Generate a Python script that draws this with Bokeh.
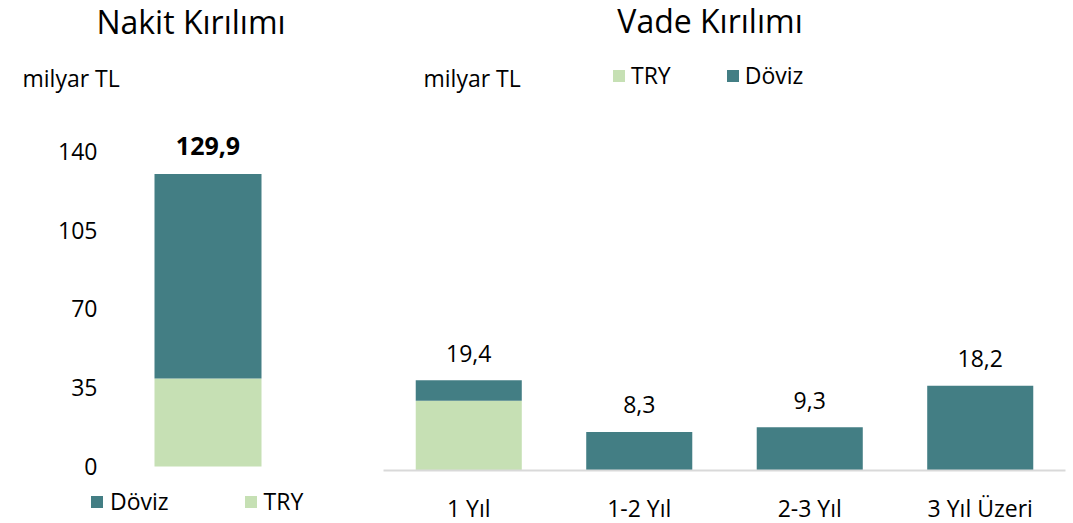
from bokeh.plotting import figure
from bokeh.models import (ColumnDataSource, FixedTicker, Range1d, FactorRange,
                          Label, Legend, LegendItem, LinearAxis, CategoricalAxis)
from bokeh.layouts import row
from bokeh.embed import file_html
from bokeh.resources import INLINE
from bokeh.core.properties import value

# ---------------- data ----------------
cash_categories = ["Nakit"]
cash_try = [39.1]
cash_doviz = [90.8]
cash_total_labels = ["129,9"]

maturity_categories = ["1 Yıl", "1-2 Yıl", "2-3 Yıl", "3 Yıl Üzeri"]
maturity_try = [15.0, 0.0, 0.0, 0.0]
maturity_doviz = [4.4, 8.3, 9.3, 18.2]
maturity_total_labels = ["19,4", "8,3", "9,3", "18,2"]

left_ticks = [0, 35, 70, 105, 140]

# ---------------- style / layout constants ----------------
FONT = "Open Sans"
TEAL = "#437E84"
GREEN = "#C6E0B4"
TXT = "#000000"
FS = "23px"
TITLE_FS = "32px"
H = 523

# left panel geometry (pixels)
LW = 375
L_BAR_CENTER, L_BAR_W, L_ZERO, L_PPU, L_AXIS_X = 207.5, 107.0, 466.0, 2.252, 100.0
# right panel geometry (pixels)
RW = 698
R_ZERO, R_PPU = 470.0, 4.65


def label(text, x, y, size=FS, align="left", style="normal"):
    return Label(x=x, y=y, x_units="screen", y_units="screen", text=text,
                 text_align=align, text_baseline="alphabetic", text_font=FONT,
                 text_font_size=size, text_font_style=style, text_color=TXT)


# ---------------- left chart ----------------
cash_src = ColumnDataSource(dict(
    x=list(range(len(cash_categories))), cat=cash_categories,
    TRY=cash_try, Doviz=cash_doviz,
    total=[a + b for a, b in zip(cash_try, cash_doviz)],
    lbl=cash_total_labels))

left = figure(width=LW, height=H,
              x_range=Range1d(-L_BAR_CENTER / L_BAR_W, (LW - L_BAR_CENTER) / L_BAR_W),
              y_range=Range1d(-(H - L_ZERO) / L_PPU, L_ZERO / L_PPU),
              x_axis_location=None, y_axis_location=None,
              output_backend="svg", toolbar_location=None,
              min_border=0, min_border_top=0, min_border_bottom=0,
              min_border_left=0, min_border_right=0)
r_try, r_dov = left.vbar_stack(["TRY", "Doviz"], x="x", width=1.0,
                               color=[GREEN, TEAL], line_color=None, source=cash_src)
left.text(x="x", y="total", text="lbl", source=cash_src, text_align="center",
          text_baseline="alphabetic", y_offset=-28, text_font=value(FONT),
          text_font_size="25px", text_font_style="bold", text_color=TXT)

yaxis = LinearAxis(ticker=FixedTicker(ticks=left_ticks),
                   fixed_location=(L_AXIS_X - L_BAR_CENTER) / L_BAR_W,
                   axis_line_color=None, major_tick_line_color=None,
                   minor_tick_line_color=None, major_tick_out=0,
                   major_label_standoff=3, major_label_text_font=FONT,
                   major_label_text_font_size=FS, major_label_text_color=TXT)
left.add_layout(yaxis, "left")
left.grid.visible = False
left.outline_line_color = None

left.add_layout(label("Nakit Kırılımı", 190.5, H - 21, TITLE_FS, "center"))
left.add_layout(label("milyar TL", 22, H - 77))

left_legend = Legend(items=[LegendItem(label="Döviz", renderers=[r_dov]),
                            LegendItem(label="TRY", renderers=[r_try])],
                     orientation="horizontal", location=(89, 6),
                     glyph_width=15, glyph_height=15, label_standoff=6,
                     spacing=74, padding=0, margin=0, border_line_color=None,
                     background_fill_alpha=0, label_text_font=FONT,
                     label_text_font_size=FS, label_text_color=TXT)
left.add_layout(left_legend, "center")

# ---------------- right chart ----------------
mat_src = ColumnDataSource(dict(
    cat=maturity_categories, TRY=maturity_try, Doviz=maturity_doviz,
    total=[a + b for a, b in zip(maturity_try, maturity_doviz)],
    lbl=maturity_total_labels))

right = figure(width=RW, height=H,
               x_range=FactorRange(*maturity_categories, range_padding=0.047,
                                   range_padding_units="absolute"),
               y_range=Range1d(-(H - R_ZERO) / R_PPU, R_ZERO / R_PPU),
               x_axis_location=None, y_axis_location=None,
               output_backend="svg", toolbar_location=None,
               min_border=0, min_border_top=0, min_border_bottom=0,
               min_border_left=0, min_border_right=0)
m_try, m_dov = right.vbar_stack(["TRY", "Doviz"], x="cat", width=0.622,
                                color=[GREEN, TEAL], line_color=None, source=mat_src)
right.text(x="cat", y="total", text="lbl", source=mat_src, text_align="center",
           text_baseline="alphabetic", y_offset=-27, text_font=value(FONT),
           text_font_size=FS, text_color=TXT)

xaxis = CategoricalAxis(fixed_location=0, bounds=(0, len(maturity_categories)),
                        axis_line_color="#D9D9D9", axis_line_width=2,
                        major_tick_line_color=None, minor_tick_line_color=None,
                        major_tick_out=0, major_label_standoff=21,
                        major_label_text_font=FONT, major_label_text_font_size=FS,
                        major_label_text_color=TXT)
right.add_layout(xaxis, "below")
right.grid.visible = False
right.outline_line_color = None

right.add_layout(label("Vade Kırılımı", 709.5 - LW, H - 20, TITLE_FS, "center"))
right.add_layout(label("milyar TL", 423 - LW, H - 77))

right_legend = Legend(items=[LegendItem(label="TRY", renderers=[m_try]),
                             LegendItem(label="Döviz", renderers=[m_dov])],
                      orientation="horizontal", location=(611 - LW, H - 91),
                      glyph_width=15, glyph_height=15, label_standoff=5,
                      spacing=54, padding=0, margin=0, border_line_color=None,
                      background_fill_alpha=0, label_text_font=FONT,
                      label_text_font_size=FS, label_text_color=TXT)
right.add_layout(right_legend, "center")

layout = row(left, right)

open("out.html", "w").write(file_html(layout, INLINE))
